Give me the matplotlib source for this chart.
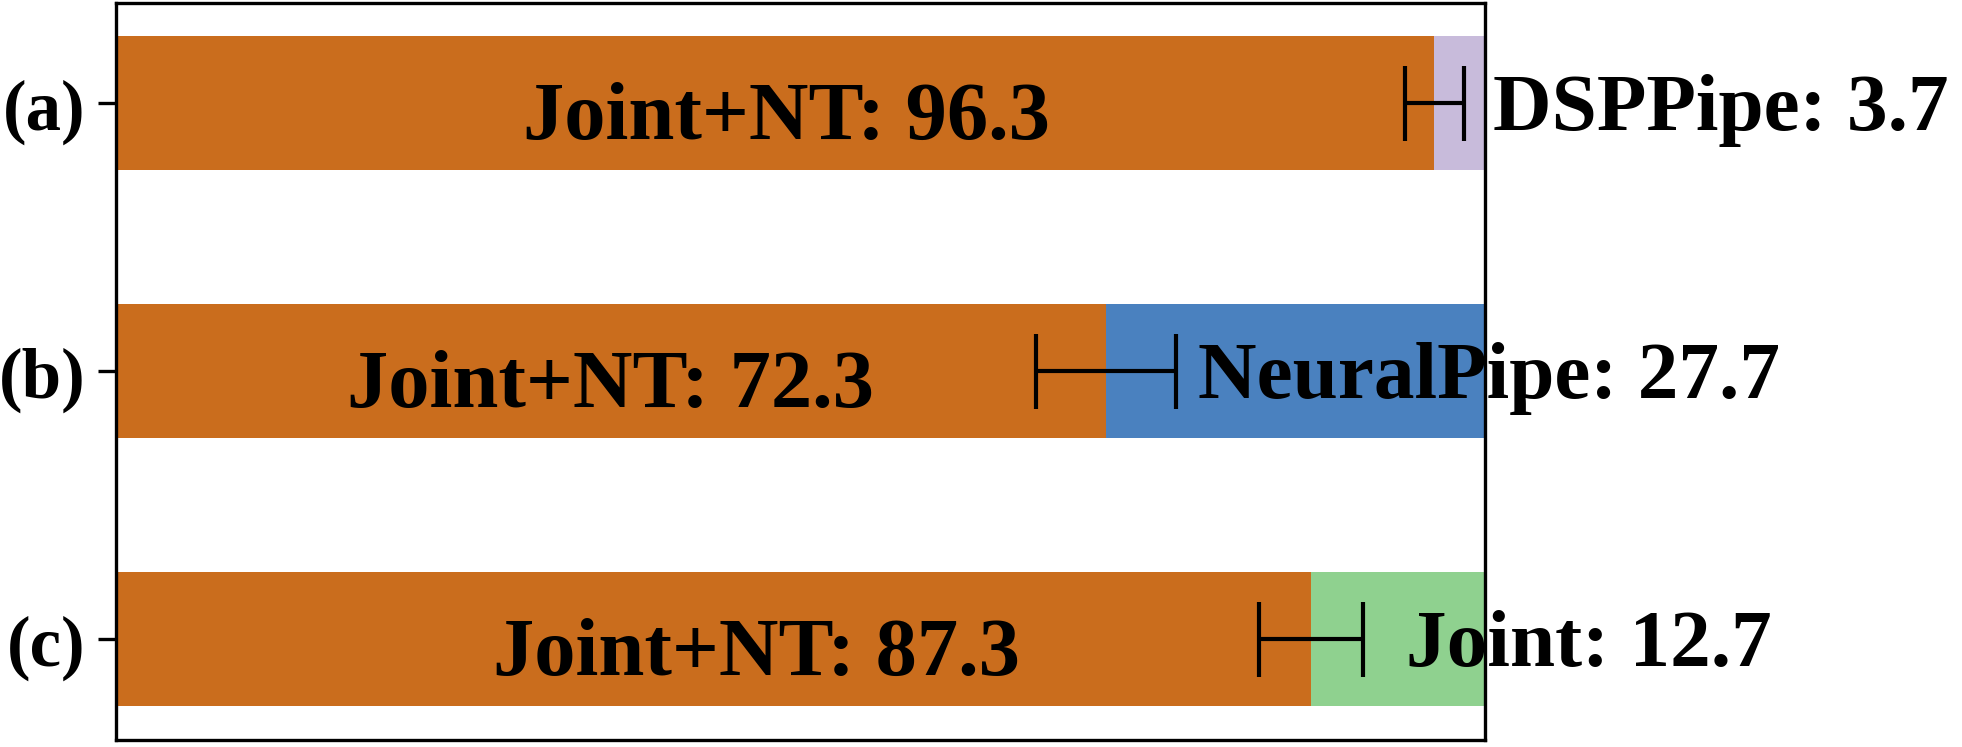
import matplotlib.pyplot as plt

# data
categories = ["(a)", "(b)", "(c)"]
joint_nt = [96.3, 72.3, 87.3]
others = [3.7, 27.7, 12.7]
other_names = ["DSPPipe", "NeuralPipe", "Joint"]
err = [2.15, 5.1, 3.8]

# label placement (data units)
inner_x = [49.0, 36.1, 46.8]
outer_x = [100.6, 79.0, 94.2]

orange = "#CA6D1D"
other_colors = ["#C8BBDB", "#4A81BF", "#8FD18F"]

plt.rcParams["font.family"] = ["Liberation Serif", "DejaVu Serif"]
plt.rcParams["font.weight"] = "bold"

fig = plt.figure(figsize=(6.54, 2.4933), dpi=300)
ax = fig.add_axes([0.0591, 0.0094, 0.6978, 0.9853])

y = range(len(categories))
ax.barh(y, joint_nt, height=0.5, color=orange)
ax.barh(y, others, left=joint_nt, height=0.5, color=other_colors)
ax.errorbar(joint_nt, y, xerr=err, fmt="none", ecolor="black",
            elinewidth=1, capsize=9, capthick=1)

for i in y:
    ax.text(inner_x[i], i + 0.13, f"Joint+NT: {joint_nt[i]}", ha="center",
            va="baseline", fontsize=19.8, fontweight="bold")
    ax.text(outer_x[i], i + 0.095, f"{other_names[i]}: {others[i]}", ha="left",
            va="baseline", fontsize=19.5, fontweight="bold", clip_on=False)

ax.set_xlim(0, 100)
ax.set_ylim(2.375, -0.375)
ax.set_yticks(list(y))
ax.set_yticklabels(categories, fontsize=17, fontweight="bold")
ax.tick_params(axis="y", length=4.3, pad=2.9)
ax.set_xticks([])

fig.savefig("out.png", dpi=300)
